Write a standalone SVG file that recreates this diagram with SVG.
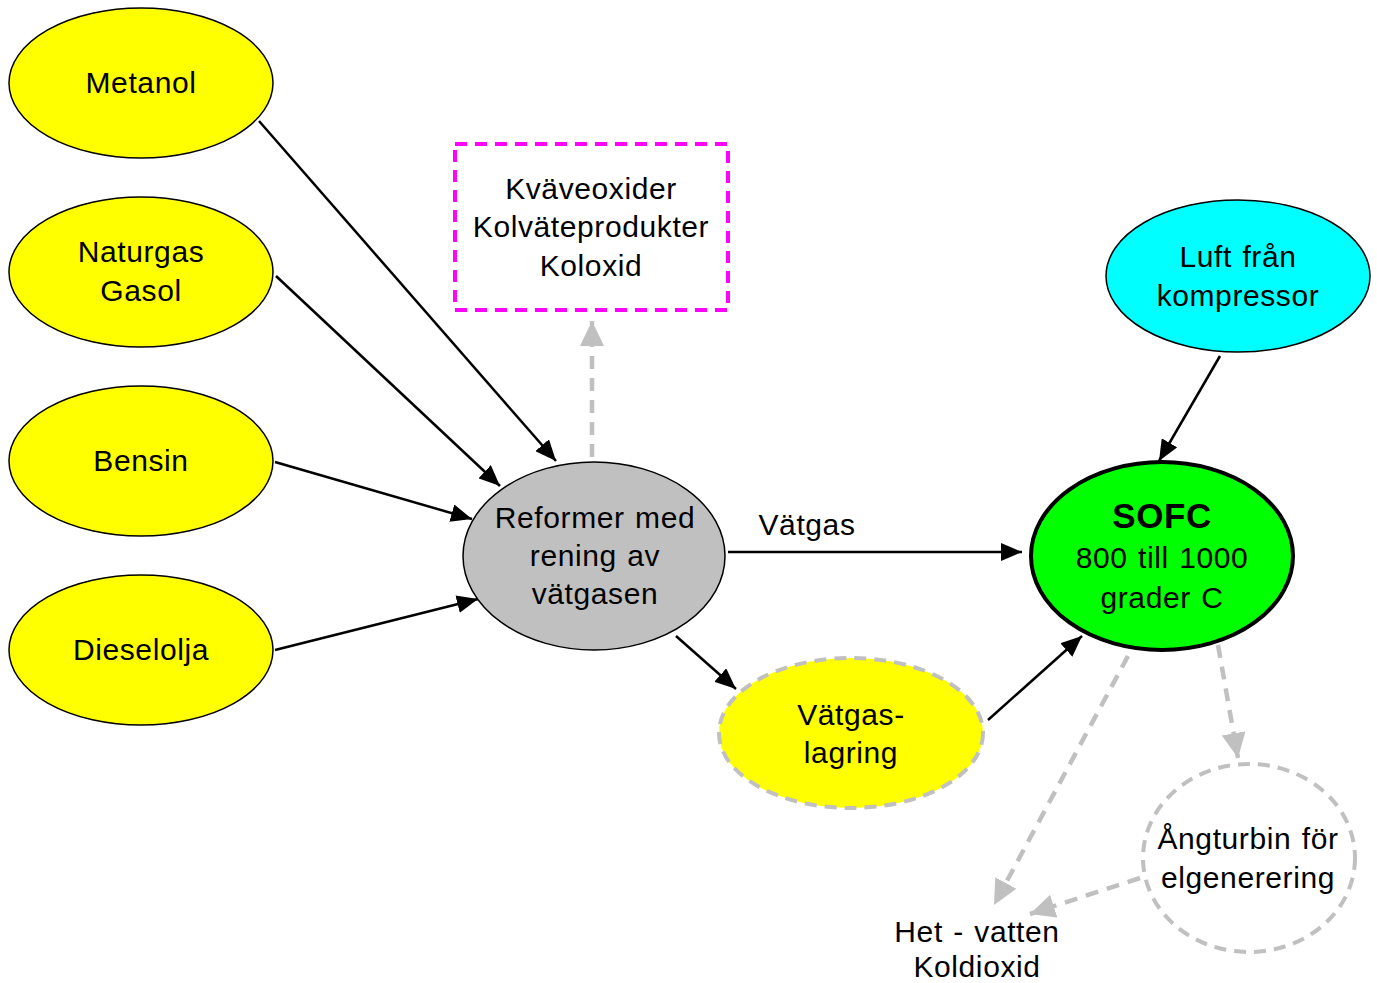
<svg xmlns="http://www.w3.org/2000/svg" width="1377" height="983" viewBox="0 0 1377 983">
<style>
text{font-family:"Liberation Sans",Arial,sans-serif;font-size:30px;fill:#000;text-anchor:middle;letter-spacing:0.6px;word-spacing:1.5px}
.fuel{fill:#ffff00;stroke:#000;stroke-width:1.5}
.blk{stroke:#000;stroke-width:2.5;fill:none;marker-end:url(#ab)}
.gry{stroke:#c0c0c0;stroke-width:4.5;fill:none;stroke-dasharray:13,9;marker-end:url(#ag)}
</style>
<defs>
<marker id="ab" markerUnits="userSpaceOnUse" markerWidth="22" markerHeight="18" refX="21" refY="9" orient="auto"><path d="M0,0 L21,9 L0,18 z" fill="#000"/></marker>
<marker id="ag" markerUnits="userSpaceOnUse" markerWidth="26" markerHeight="24" refX="25" refY="12" orient="auto"><path d="M0,0 L25,12 L0,24 z" fill="#c0c0c0"/></marker>
</defs>
<rect width="1377" height="983" fill="#fff"/>
<g id="connectors">
<line class="blk" x1="259" y1="121" x2="556" y2="461"/>
<line class="blk" x1="276" y1="276" x2="500" y2="486"/>
<line class="blk" x1="275" y1="462" x2="472" y2="519"/>
<line class="blk" x1="275" y1="650" x2="478" y2="599"/>
<line class="gry" x1="592" y1="457" x2="592" y2="321"/>
<line class="blk" x1="728" y1="552" x2="1022" y2="552"/>
<text x="807" y="535">Vätgas</text>
<line class="blk" x1="676" y1="636" x2="736" y2="689"/>
<line class="blk" x1="988" y1="720" x2="1082" y2="636"/>
<line class="blk" x1="1220" y1="356" x2="1159" y2="461"/>
<line class="gry" x1="1128" y1="656" x2="994" y2="905"/>
<line class="gry" x1="1218" y1="645" x2="1238" y2="758"/>
<line class="gry" x1="1140" y1="878" x2="1030" y2="914"/>
</g>
<g id="metanol"><ellipse class="fuel" cx="141" cy="83" rx="132" ry="75"/><text x="141" y="93">Metanol</text></g>
<g id="naturgas"><ellipse class="fuel" cx="141" cy="272" rx="132" ry="75"/><text x="141" y="262">Naturgas</text><text x="141" y="301">Gasol</text></g>
<g id="bensin"><ellipse class="fuel" cx="141" cy="461" rx="132" ry="75"/><text x="141" y="471">Bensin</text></g>
<g id="dieselolja"><ellipse class="fuel" cx="141" cy="650" rx="132" ry="75"/><text x="141" y="660">Dieselolja</text></g>
<g id="reformer"><ellipse cx="594" cy="556" rx="131" ry="94" fill="#c0c0c0" stroke="#000" stroke-width="1.5"/><text x="595" y="528">Reformer med</text><text x="595" y="566">rening av</text><text x="595" y="604">vätgasen</text></g>
<g id="emissions"><rect x="455" y="144" width="273" height="166" fill="#fff" stroke="#ff00ff" stroke-width="4" stroke-dasharray="12,8"/><text x="591" y="199">Kväveoxider</text><text x="591" y="237">Kolväteprodukter</text><text x="591" y="276">Koloxid</text></g>
<g id="luft"><ellipse cx="1238" cy="276" rx="132" ry="76" fill="#00ffff" stroke="#000" stroke-width="1.5"/><text x="1238" y="267">Luft från</text><text x="1238" y="306">kompressor</text></g>
<g id="sofc"><ellipse cx="1162" cy="556" rx="131" ry="94" fill="#00ff00" stroke="#000" stroke-width="4"/><text x="1162" y="528" font-weight="bold" style="font-size:35px">SOFC</text><text x="1162" y="568">800 till 1000</text><text x="1162" y="608">grader C</text></g>
<g id="vatgaslagring"><ellipse cx="851" cy="733" rx="132" ry="75" fill="#ffff00" stroke="#c0c0c0" stroke-width="4" stroke-dasharray="12,8"/><text x="851" y="725">Vätgas-</text><text x="851" y="763">lagring</text></g>
<g id="angturbin"><ellipse cx="1249" cy="858" rx="106" ry="94" fill="#fff" stroke="#c0c0c0" stroke-width="4" stroke-dasharray="12,8"/><text x="1248" y="849">Ångturbin för</text><text x="1248" y="888">elgenerering</text></g>
<g id="hetvatten"><text x="977" y="942">Het - vatten</text><text x="977" y="977">Koldioxid</text></g>
</svg>
